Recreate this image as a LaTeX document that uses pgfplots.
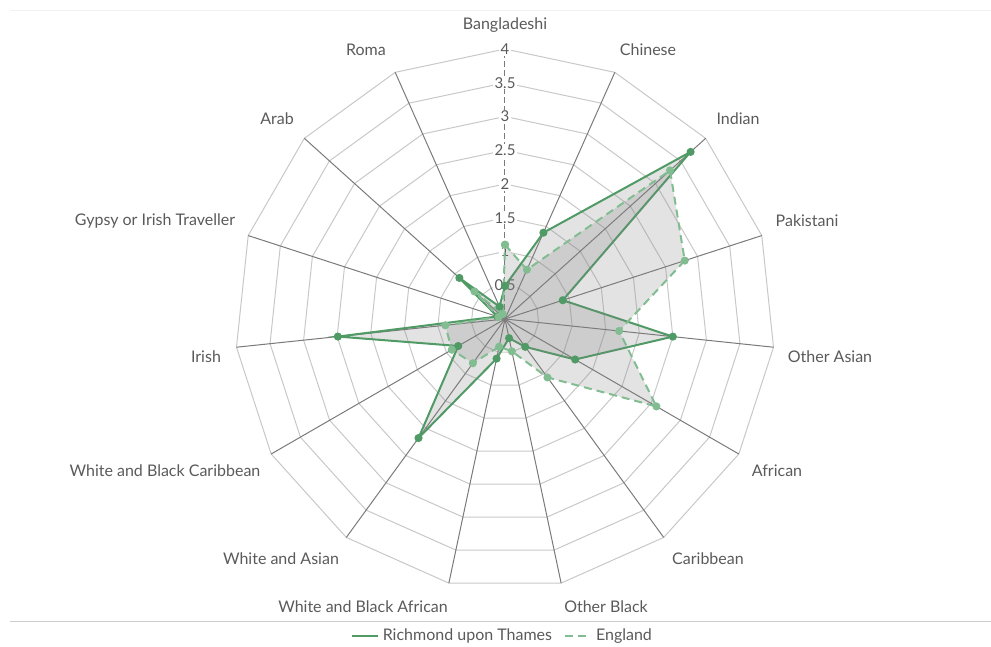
\documentclass[border=0pt]{standalone}
\usepackage{pgfplots}
\pgfplotsset{compat=1.18}
\usepgfplotslibrary{polar}
\usetikzlibrary{calc}
\usepackage{fontspec}
\setmainfont{Lato}
\definecolor{rich}{HTML}{4F9A65}
\definecolor{eng}{HTML}{82BD92}
\definecolor{lab}{HTML}{5A5A5A}
\definecolor{ringc}{HTML}{C8C8C8}
\definecolor{spokec}{HTML}{7A7A7A}
\begin{document}
\begin{tikzpicture}
\begin{polaraxis}[
  width=270pt, height=270pt, scale only axis,
  ymin=0, ymax=4, hide axis, clip=false,
  xtick=\empty, ytick=\empty,
  legend columns=2,
  legend style={draw=none, fill=none, at={(0.497,-0.087)}, anchor=center,
    font=\fontsize{8}{9}\selectfont, text=lab,
    /tikz/every even column/.append style={column sep=4pt}},
  legend image code/.code={\draw[#1,mark=none,fill=none] (0pt,0pt) -- (13pt,0pt);},
]
\coordinate (C) at (axis cs:0,0);
% rings
\pgfplotsinvokeforeach{0.5,1,1.5,2,2.5,3,3.5,4}{
  \draw[ringc, line width=0.5pt] (axis cs:90,#1) \foreach \a in {66,42,...,-246}{ -- (axis cs:\a,#1)} -- cycle;
}
% spokes
\pgfplotsinvokeforeach{66,42,-6,18,-30,-54,-78,-102,-126,-150,-174,-198,-222,-246}{
  \draw[spokec, line width=0.5pt] (axis cs:0,0) -- (axis cs:#1,4);
}
\draw[spokec, line width=0.5pt, dash pattern=on 3pt off 1.5pt] (axis cs:0,0) -- (axis cs:90,4);
% radial tick labels
\pgfplotsinvokeforeach{0.5,1,1.5,2,2.5,3,3.5,4}{
  \node[fill=white, inner sep=0.6pt, font=\fontsize{7.5}{8}\selectfont, text=lab] at (axis cs:90,#1) {#1};
}
% data
\addplot[rich, line width=1pt, mark=*, mark size=1.5pt,
  mark options={solid, fill=rich, fill opacity=1},
  fill=gray, fill opacity=0.22] coordinates {
  (90,0.49) (66,1.40) (42,3.70) (18,0.90) (-6,2.50) (-30,1.20) (-54,0.51)
  (-78,0.29) (-102,0.60) (-126,2.18) (-150,0.80) (-174,2.49) (-198,0.12)
  (-222,0.91) (-246,0.20) (-270,0.49)};
\addlegendentry{Richmond upon Thames}
\addplot[eng, line width=1pt, dash pattern=on 4pt off 2.5pt, mark=*, mark size=1.5pt,
  mark options={solid, fill=eng, fill opacity=1},
  fill=gray, fill opacity=0.22] coordinates {
  (90,1.10) (66,0.80) (42,3.29) (18,2.80) (-6,1.70) (-30,2.59) (-54,1.07)
  (-78,0.49) (-102,0.42) (-126,0.81) (-150,0.91) (-174,0.89) (-198,0.10)
  (-222,0.61) (-246,0.08) (-270,1.10)};
\addlegendentry{England}
\end{polaraxis}
% category labels
\begin{scope}[every node/.style={inner sep=0pt, font=\fontsize{8}{9}\selectfont, text=lab}]
\node at ($(C)+(0pt,147pt)$) {Bangladeshi};
\node at ($(C)+(71.5pt,134.5pt)$) {Chinese};
\node at ($(C)+(116.5pt,100pt)$) {Indian};
\node at ($(C)+(151pt,49pt)$) {Pakistani};
\node at ($(C)+(162.5pt,-19pt)$) {Other Asian};
\node at ($(C)+(136pt,-76pt)$) {African};
\node at ($(C)+(101.5pt,-120pt)$) {Caribbean};
\node at ($(C)+(50.5pt,-144pt)$) {Other Black};
\node at ($(C)+(-71pt,-144pt)$) {White and Black African};
\node at ($(C)+(-112pt,-120pt)$) {White and Asian};
\node at ($(C)+(-170pt,-76pt)$) {White and Black Caribbean};
\node at ($(C)+(-149.5pt,-19pt)$) {Irish};
\node at ($(C)+(-175pt,49pt)$) {Gypsy or Irish Traveller};
\node at ($(C)+(-114pt,100pt)$) {Arab};
\node at ($(C)+(-69.5pt,134.5pt)$) {Roma};
\end{scope}
\pgfresetboundingbox
\path[use as bounding box] ($(C)+(-252.5pt,-164pt)$) rectangle ($(C)+(243pt,159.5pt)$);
\draw[black!20, line width=0.5pt] ($(C)+(-247.5pt,-151.5pt)$) -- ($(C)+(243pt,-151.5pt)$);
\draw[black!5, line width=0.5pt] ($(C)+(-247.5pt,154pt)$) -- ($(C)+(243pt,154pt)$);
\end{tikzpicture}
\end{document}
